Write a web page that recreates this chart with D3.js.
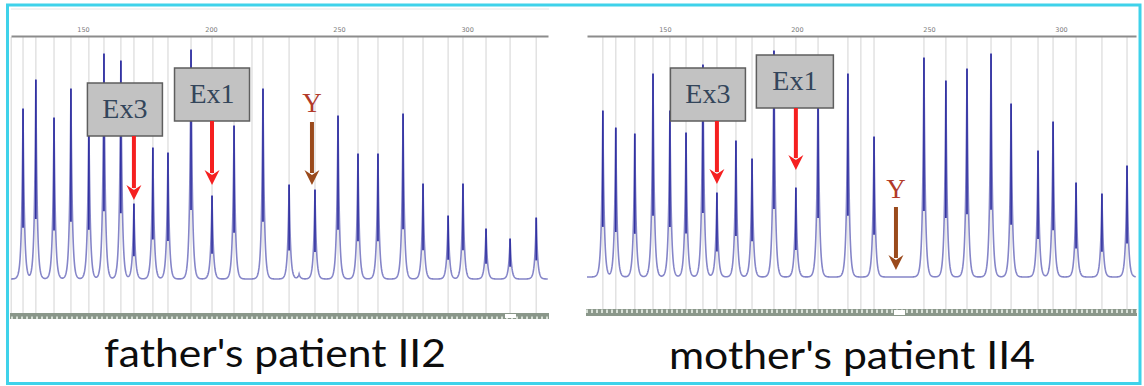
<!DOCTYPE html>
<html><head><meta charset="utf-8">
<script src="https://cdn.jsdelivr.net/npm/d3@7/dist/d3.min.js"></script>
<style>html,body{margin:0;padding:0;background:#fff;}svg{display:block;}</style>
</head><body><svg id="c" width="1144" height="386"></svg>
<script>
// ---- data (fragment sizes in bp, peak heights in relative units) ----
const tickValues = [150, 200, 250, 300];
const leftSizes = [126.6,131.6,138.7,145.3,152.3,158.2,164.8,169.9,177.3,183.2,192.2,200.4,209.0,220.3,230.5,234.4,240.6,249.6,257.4,265.2,275.0,282.8,292.6,298.4,307.4,316.8,327.0];
const leftHeights = [171,200,162,191,164,226,219,76,132,127,230,84,154,191,95,5,90,164,126,126,166,96,64,96,51,41,62];
const leftBins = [122.0,126.6,131.6,138.7,145.3,152.3,158.2,164.8,169.9,177.3,183.2,192.2,200.4,209.0,216.0,220.3,230.5,240.6,249.6,257.4,265.2,275.0,282.8,292.6,298.4,307.4,316.8,327.0];
const rightSizes = [126.5,131.4,138.6,145.5,151.9,158.0,164.4,169.7,176.9,183.0,191.3,199.6,208.0,219.3,229.2,248.1,256.4,264.4,273.5,281.1,291.3,297.0,305.7,315.5,325.0];
const rightHeights = [167,150,144,204,167,145,213,85,137,119,227,90,197,204,141,220,197,209,224,174,127,156,95,84,112];
const rightBins = [126.5,131.4,138.6,145.5,151.9,158.0,164.4,169.7,176.9,183.0,191.3,199.6,208.0,219.3,224.2,229.2,248.1,256.4,264.4,273.5,281.1,291.3,297.0,305.7,315.5,325.0];
const panelTitles = ["father's patient II2", "mother's patient II4"];
const boxLabels = ["Ex3", "Ex1"];
const markerLabel = "Y";
// annotation targets (bp)
const leftTargets = [169.9, 200.4, 240.6];
const rightTargets = [169.7, 199.6, 237.5];

// ---- layout ----
const panels = [
  {sizes:leftSizes, heights:leftHeights, bins:leftBins, title:panelTitles[0], targets:leftTargets,
   domain:[121.9,331.6], range:[11,548], base:279, axisY:36, stripY:313, stripH:6, gap:[505,516],
   titleX:275, titleY:367, titleW:342,
   boxes:[{dx:-9, top:83, w:75, h:53, tip:200},{dx:0, top:68, w:75, h:53, tip:185}],
   yMark:{dx:-3, textY:112, from:122, tip:185}},
  {sizes:rightSizes, heights:rightHeights, bins:rightBins, title:panelTitles[1], targets:rightTargets,
   domain:[120.5,328.4], range:[587,1136], base:277, axisY:36, stripY:309, stripH:7, gap:[894,905],
   titleX:852, titleY:369, titleW:366,
   boxes:[{dx:-9, top:68, w:75, h:53, tip:184},{dx:-1, top:55, w:77, h:53, tip:170}],
   yMark:{dx:0, textY:198, from:207, tip:270}}
];

const svg = d3.select("#c");
const defs = svg.append("defs");
const pat = defs.append("pattern").attr("id","stripPat").attr("patternUnits","userSpaceOnUse")
  .attr("width",5).attr("height",7);
pat.append("rect").attr("width",5).attr("height",7).attr("fill","#8a978a");
pat.append("rect").attr("x",1).attr("y",1.5).attr("width",2).attr("height",3.5).attr("fill","#d8e0d7");

function arrow(g, x, y0, y1, color){
  const hw = 7.5, hh = 15;
  g.append("line").attr("x1",x).attr("x2",x).attr("y1",y0).attr("y2",y1-hh+3)
    .attr("stroke",color).attr("stroke-width",4);
  g.append("path").attr("d",`M${x-hw},${y1-hh} L${x},${y1-hh+5} L${x+hw},${y1-hh} L${x},${y1} Z`)
    .attr("fill",color);
}

panels.forEach(p => {
  const x = d3.scaleLinear().domain(p.domain).range(p.range);
  const y = d3.scaleLinear().domain([0,240]).range([p.base, p.base-240]);
  const g = svg.append("g");

  // bin grid lines
  g.selectAll("line.bin").data(p.bins).join("line").attr("class","bin")
    .attr("x1",d=>x(d)).attr("x2",d=>x(d)).attr("y1",p.axisY+1).attr("y2",p.stripY)
    .attr("stroke","#e2e2e2").attr("stroke-width",1.5);

  // top axis
  const ax = g.append("g").attr("transform",`translate(0,${p.axisY})`)
    .call(d3.axisTop(x).tickValues(tickValues).tickSize(0).tickPadding(4));
  ax.select(".domain").attr("stroke","#8c8c8c").attr("stroke-width",2);
  ax.selectAll("text").attr("fill","#7a7a7a").attr("font-size",6.5).attr("font-family","DejaVu Sans");

  // trace: sum of sharp peaks
  const tau = 1.4;
  const peaksPx = p.sizes.map((s,i)=>({cx:x(s), h:p.heights[i]}));
  let xs = d3.range(p.range[0], p.range[1], 0.25).concat(peaksPx.map(d=>d.cx)).sort((a,b)=>a-b);
  const pts = xs.map(px => [px, peaksPx.reduce((acc,d)=>acc + d.h*Math.exp(-Math.abs(px-d.cx)/tau), 0)]);
  g.append("path").datum(pts)
    .attr("d", d3.line().x(d=>d[0]).y(d=>y(d[1])))
    .attr("fill","none").attr("stroke","#8585c8").attr("stroke-width",1.6);
  g.selectAll("line.core").data(peaksPx.filter(d=>d.h>20)).join("line").attr("class","core")
    .attr("x1",d=>d.cx).attr("x2",d=>d.cx).attr("y1",d=>y(d.h*0.3)).attr("y2",d=>y(d.h)+1)
    .attr("stroke","#3232a2").attr("stroke-width",1.7);

  // strip
  g.append("rect").attr("x",p.range[0]-1).attr("y",p.stripY).attr("width",p.range[1]-p.range[0]+2)
    .attr("height",p.stripH).attr("fill","url(#stripPat)");
  g.append("rect").attr("x",p.gap[0]).attr("y",p.stripY+1).attr("width",p.gap[1]-p.gap[0])
    .attr("height",p.stripH-2).attr("fill","#ffffff");

  // Ex boxes + red arrows
  p.boxes.forEach((b,i) => {
    const ax0 = x(p.targets[i]);
    const cx = ax0 + b.dx;
    g.append("rect").attr("x",cx-b.w/2).attr("y",b.top).attr("width",b.w).attr("height",b.h)
      .attr("fill","#c2c2c2").attr("stroke","#5e5e5e").attr("stroke-width",1.5);
    g.append("text").attr("x",cx).attr("y",b.top+35).attr("text-anchor","middle")
      .attr("font-family","Liberation Serif").attr("font-size",28).attr("fill","#33455a")
      .text(boxLabels[i]);
    arrow(g, ax0, b.top+b.h, b.tip, "#f52020");
  });

  // Y marker
  const yx = x(p.targets[2]) + p.yMark.dx;
  g.append("text").attr("x",yx).attr("y",p.yMark.textY).attr("text-anchor","middle")
    .attr("font-family","Liberation Serif").attr("font-size",27).attr("fill","#b23a2a").text(markerLabel);
  arrow(g, yx, p.yMark.from, p.yMark.tip, "#9a4a1c");

  // panel title
  g.append("text").attr("x",p.titleX).attr("y",p.titleY).attr("text-anchor","middle")
    .attr("font-family","Lato").attr("font-size",39).attr("fill","#0d0d0d")
    .attr("textLength",p.titleW).attr("lengthAdjust","spacingAndGlyphs").text(p.title);
});

// faint frame of left panel
svg.append("path").attr("d","M11,9 H549").attr("stroke","#e6e6e6").attr("stroke-width",1).attr("fill","none");
// outer cyan frame
svg.append("rect").attr("x",7.5).attr("y",5).attr("width",1132.5).attr("height",378.5)
  .attr("fill","none").attr("stroke","#3fd2ea").attr("stroke-width",3);
</script></body></html>
